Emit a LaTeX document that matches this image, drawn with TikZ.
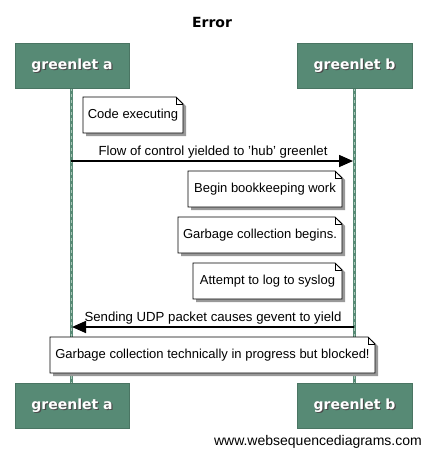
\documentclass[tikz,border=0pt]{standalone}
\usepackage{fontspec}
\setmainfont{Liberation Sans}
\newfontfamily\boxfont{DejaVu Sans}
\usetikzlibrary{arrows.meta,calc}
\definecolor{actorgreen}{RGB}{87,138,117}
\definecolor{lifedash}{RGB}{170,200,185}
\tikzset{
  x=1pt, y=-1pt,
  actor/.style={fill=actorgreen, draw=actorgreen!85!black, line width=0.6pt},
  actorlabel/.style={text=white, font=\boxfont\bfseries\fontsize{14}{16}\selectfont, inner sep=0},
  actorshadow/.style={text=black!70, font=\boxfont\bfseries\fontsize{14}{16}\selectfont, inner sep=0},
  notetext/.style={font=\fontsize{13}{15}\selectfont, inner sep=0},
  msgtext/.style={font=\fontsize{13.2}{15}\selectfont, inner sep=0},
  msg/.style={line width=1.6pt, -{Triangle[length=14pt,width=12pt]}},
}
% note: #1 left, #2 top, #3 right, #4 bottom, #5 name, #6 text
\newcommand{\mynote}[6]{%
  \fill[black!40] (#1+3,#2+3) -- (#3-6+3,#2+3) -- (#3+3,#2+6+3) -- (#3+3,#4+3) -- (#1+3,#4+3) -- cycle;
  \draw[fill=white, line width=0.8pt] (#1,#2) -- (#3-7,#2) -- (#3,#2+7) -- (#3,#4) -- (#1,#4) -- cycle;
  \draw[line width=0.8pt] (#3-7,#2) -- (#3-7,#2+7) -- (#3,#2+7);
  \node[notetext] (#5) at ({(#1+#3)/2},{(#2+#4)/2}) {#6};
}
\begin{document}
\begin{tikzpicture}
\useasboundingbox (0,0) rectangle (424,450);
\node[font=\boxfont\bfseries\fontsize{14}{16}\selectfont] (title) at (212,22) {Error};

% lifelines
\coordinate (la1) at (71,88);
\coordinate (la2) at (71,383);
\coordinate (lb1) at (354,88);
\coordinate (lb2) at (354,383);
\draw[actorgreen, line width=3pt] (la1) -- (la2);
\draw[actorgreen, line width=3pt] (lb1) -- (lb2);
\draw[lifedash, line width=1pt, dash pattern=on 3pt off 3pt] (la1) -- (la2);
\draw[lifedash, line width=1pt, dash pattern=on 3pt off 3pt] (lb1) -- (lb2);

% actor boxes
\foreach \nm/\xl/\xr/\yt/\yb/\lab in {ta/15/129/43/88/greenlet a, tb/297/412/43/88/greenlet b, ba/15/129/383/428/greenlet a, bb/297/412/383/428/greenlet b}{
  \draw[actor] (\xl,\yt) rectangle (\xr,\yb);
  \node[actorshadow] at ({(\xl+\xr)/2+1.2},{(\yt+\yb)/2+1.2}) {\lab};
  \node[actorlabel] (\nm) at ({(\xl+\xr)/2},{(\yt+\yb)/2}) {\lab};
}

\mynote{83}{97}{183}{133}{n1}{Code executing}

\coordinate (m1a) at (71,161);
\coordinate (m1b) at (353,161);
\draw[msg] (m1a) -- (m1b);
\node[msgtext] (l1) at (213,152) {Flow of control yielded to 'hub' greenlet};

\mynote{188}{171}{342}{207}{n2}{Begin bookkeeping work}
\mynote{178}{217}{342}{253}{n3}{Garbage collection begins.}
\mynote{193}{263}{342}{299}{n4}{Attempt to log to syslog}

\coordinate (m2a) at (354,327);
\coordinate (m2b) at (72,327);
\draw[msg] (m2a) -- (m2b);
\node[msgtext] (l2) at (213,318) {Sending UDP packet causes gevent to yield};

\mynote{50}{337}{375}{373}{n5}{Garbage collection technically in progress but blocked!}

\node[font=\fontsize{14}{16}\selectfont, anchor=east, inner sep=0] (web) at (422,442) {www.websequencediagrams.com};
\end{tikzpicture}
\end{document}
